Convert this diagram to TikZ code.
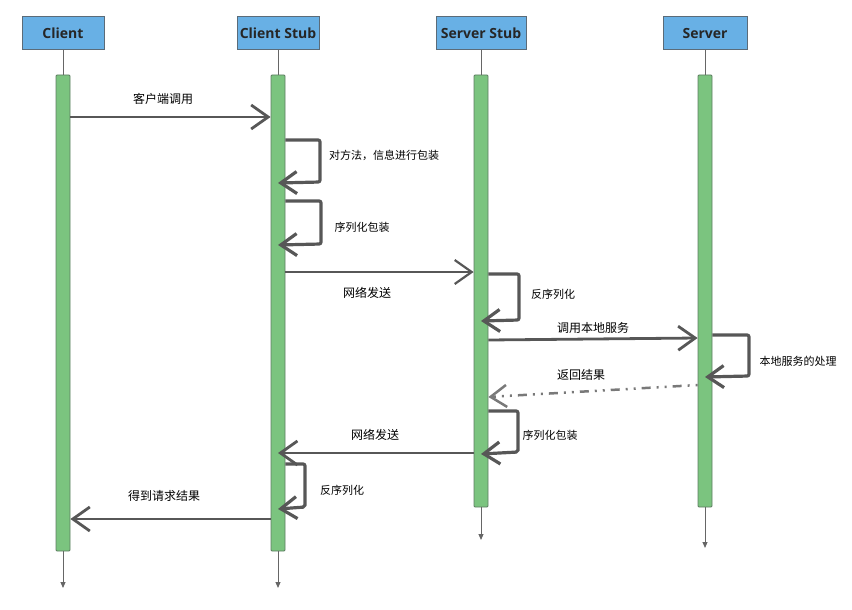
\documentclass[tikz,border=0pt]{standalone}
\usepackage{fontspec}
\usepackage{tikz}
\usetikzlibrary{arrows.meta}
\newfontfamily\cjkfont{Noto Sans CJK SC}
\newfontfamily\headfont{Open Sans}
\definecolor{headblue}{HTML}{68B0E5}
\definecolor{headedge}{HTML}{5B6B78}
\definecolor{bargreen}{HTML}{7BC47F}
\definecolor{baredge}{HTML}{5E7D62}
\definecolor{msggray}{HTML}{575757}

\begin{document}
\begin{tikzpicture}[x=1pt,y=-1pt,
    head/.style={draw=headedge,line width=1pt,fill=headblue,minimum width=82pt,minimum height=33pt,inner sep=2pt,font=\headfont\bfseries\fontsize{14}{16}\selectfont,text=black!85},
    bar/.style={draw=baredge,line width=0.8pt,fill=bargreen,minimum width=14pt,rounded corners=1pt,inner sep=0pt},
    life/.style={draw=black!60,line width=1pt},
    msg/.style={draw=msggray,line width=2.8pt,-{Straight Barb[length=17pt,width=24pt]}},
    selfmsg/.style={draw=msggray,line width=3.2pt,rounded corners=2pt,-{Straight Barb[length=16pt,width=22pt]}},
    back/.style={draw=msggray!80,line width=2.5pt,dash pattern=on 2pt off 6pt on 2pt off 6pt on 9pt off 6pt,-{Straight Barb[length=16pt,width=22pt]}},
    msglabel/.style={font=\cjkfont\fontsize{12}{14}\selectfont,text=black},
    selflabel/.style={font=\cjkfont\fontsize{11}{13}\selectfont,text=black}]
    \useasboundingbox (0,0) rectangle (852,610);
    % Heads
    \node[head] (client) at (63,33.5) {Client};
    \node[head] (cstub) at (278,33.5) {Client Stub};
    \node[head,minimum width=90pt] (sstub) at (481,33.5) {Server Stub};
    \node[head,minimum width=84pt] (server) at (705,33.5) {Server};
    % Bars
    \node[bar,minimum height=476pt] (cbar) at (63,313) {};
    \node[bar,minimum height=476pt] (csbar) at (278,313) {};
    \node[bar,minimum height=432pt] (ssbar) at (481,291) {};
    \node[bar,minimum height=432pt] (sbar) at (705,291) {};
    % Life lines
    \coordinate (cend) at (63,588);
    \coordinate (csend) at (278,588);
    \coordinate (ssend) at (481,540);
    \coordinate (send) at (705,548);
    \draw[life] (client.south) -- (cbar.north);
    \draw[life] (cstub.south) -- (csbar.north);
    \draw[life] (sstub.south) -- (ssbar.north);
    \draw[life] (server.south) -- (sbar.north);
    \draw[life,-{Triangle[length=6pt,width=5pt]}] (cbar.south) -- (cend);
    \draw[life,-{Triangle[length=6pt,width=5pt]}] (csbar.south) -- (csend);
    \draw[life,-{Triangle[length=6pt,width=5pt]}] (ssbar.south) -- (ssend);
    \draw[life,-{Triangle[length=6pt,width=5pt]}] (sbar.south) -- (send);
    % Request
    \draw[msg] (cbar.east |- 0,117) -- (csbar.west |- 0,117);
    \node[msglabel] (l1) at (163,99) {客户端调用};
    \draw[selfmsg] (csbar.east |- 0,140) -- (320,140) -- (320,182) -- (csbar.center |- 0,183);
    \node[selflabel] (l2) at (384,155) {对方法，信息进行包装};
    \draw[selfmsg] (csbar.east |- 0,201) -- (321,201) -- (321,244) -- (csbar.center |- 0,245);
    \node[selflabel] (l3) at (362,227) {序列化包装};
    \draw[msg,line width=2.2pt] (csbar.east |- 0,272) -- (ssbar.west |- 0,272);
    \node[msglabel] (l4) at (367,293) {网络发送};
    \draw[selfmsg] (ssbar.east |- 0,274) -- (519,274) -- (519,320) -- (ssbar.center |- 0,321);
    \node[selflabel] (l5) at (553,294) {反序列化};
    \draw[msg] (ssbar.east |- 0,340) -- (sbar.west |- 0,338);
    \node[msglabel] (l6) at (593,328) {调用本地服务};
    \draw[selfmsg] (sbar.east |- 0,335) -- (749,335) -- (749,376) -- (sbar.center |- 0,377);
    \node[selflabel] (l7) at (798,361) {本地服务的处理};
    % Response
    \draw[back] (sbar.west |- 0,385) -- (ssbar.east |- 0,397);
    \node[msglabel] (l8) at (581,375) {返回结果};
    \draw[selfmsg] (ssbar.east |- 0,411) -- (518,411) -- (518,452) -- (ssbar.center |- 0,454);
    \node[selflabel] (l9) at (550,435) {序列化包装};
    \draw[msg] (ssbar.west |- 0,453) -- (csbar.center |- 0,453);
    \node[msglabel] (l10) at (375,435) {网络发送};
    \draw[selfmsg] (csbar.east |- 0,464) -- (305,464) -- (305,507) -- (csbar.center |- 0,509);
    \node[selflabel] (l11) at (342,490) {反序列化};
    \draw[msg] (csbar.west |- 0,519) -- (cbar.east |- 0,519);
    \node[msglabel] (l12) at (164,496) {得到请求结果};
\end{tikzpicture}
\end{document}
